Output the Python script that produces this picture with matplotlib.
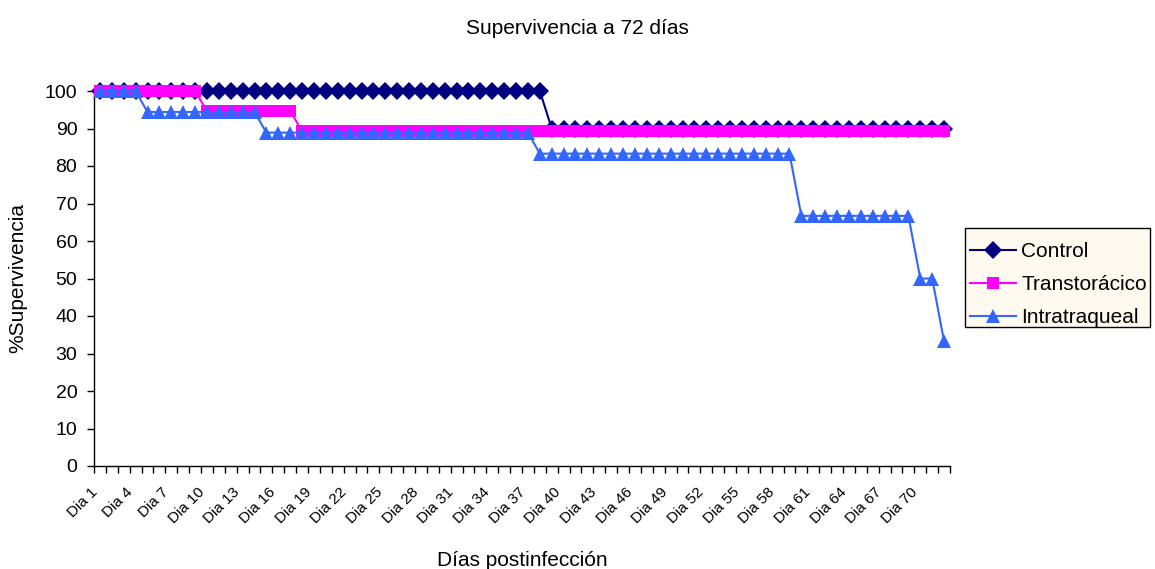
import matplotlib
matplotlib.use("Agg")
import matplotlib.pyplot as plt
import matplotlib.transforms as mtransforms
from matplotlib.patches import Rectangle
import numpy as np

plt.rcParams['font.family'] = ['Liberation Sans', 'DejaVu Sans']

days = [f"Dia {d}" for d in range(1, 73)]

control = [100.0] * 38 + [90.0] * 34
transtoracico = [100.0] * 9 + [94.7] * 8 + [89.3] * 55
intratraqueal = ([100.0] * 4 + [94.4] * 10 + [88.9] * 23 + [83.3] * 22
                 + [66.7] * 10 + [50.0] * 2 + [33.3] * 1)

series_names = ["Control", "Transtorácico", "Intratraqueal"]
label_every = 3

W, H = 1155, 569
fig = plt.figure(figsize=(W / 100, H / 100), dpi=100)
ax = fig.add_axes([94 / W, 1 - 466 / H, (950 - 94) / W, (466 - 91) / H])

x = np.arange(len(days))
l1, = ax.plot(x, control, color="#000080", lw=1.5, marker="D", ms=9, mew=0,
              label=series_names[0], clip_on=False, zorder=3)
l2, = ax.plot(x, transtoracico, color="#FF00FF", lw=1.5, marker="s", ms=8.5, mew=0,
              label=series_names[1], clip_on=False, zorder=4)
l3, = ax.plot(x, intratraqueal, color="#3366FF", lw=1.5, marker="^", ms=9.5, mew=0,
              label=series_names[2], clip_on=False, zorder=5)

ax.set_xlim(-0.5, len(days) - 0.5)
ax.set_ylim(0, 100)
ax.set_yticks(np.arange(0, 101, 10))
ax.tick_params(axis="y", labelsize=14, length=5, width=1, direction="out", pad=7)

# category boundaries as tick marks
ax.set_xticks(np.arange(-0.5, len(days), 1.0))
ax.set_xticklabels([])
ax.tick_params(axis="x", which="major", length=5, width=1, direction="out")
lab_pos = x[::label_every]
ax.set_xticks(lab_pos, minor=True)
ax.set_xticklabels([days[i] for i in lab_pos], minor=True, rotation=45,
                   ha="right", va="top", rotation_mode="anchor", fontsize=11)
ax.tick_params(axis="x", which="minor", length=0, pad=14)
offset = mtransforms.ScaledTranslation(-10 / 100, 0, fig.dpi_scale_trans)
for lab in ax.get_xticklabels(minor=True):
    lab.set_transform(lab.get_transform() + offset)

for s in ["top", "right"]:
    ax.spines[s].set_visible(False)
for s in ["left", "bottom"]:
    ax.spines[s].set_color("#000000")
    ax.spines[s].set_linewidth(1)

fig.text(577 / W, 1 - 28 / H, "Supervivencia a 72 días", ha="center", va="center", fontsize=15)
fig.text(522 / W, 1 - 560 / H, "Días postinfección", ha="center", va="center", fontsize=15)
fig.text(18 / W, 1 - 278 / H, "%Supervivencia", ha="center", va="center", rotation=90, fontsize=15)

# legend box
fig.patches.append(Rectangle((965 / W, 1 - 327 / H), (1150 - 965) / W, (327 - 228) / H,
                             transform=fig.transFigure, facecolor="#FFFAF0",
                             edgecolor="#000000", linewidth=1, zorder=1))
leg = fig.legend(handles=[l1, l2, l3], loc="upper left",
                 bbox_to_anchor=(970 / W, 1 - 242 / H), borderaxespad=0,
                 fontsize=15, frameon=False, handlelength=2.2,
                 handletextpad=0.25, labelspacing=0.68, borderpad=0.0)
leg.set_zorder(2)

fig.savefig("out.png", dpi=100)
